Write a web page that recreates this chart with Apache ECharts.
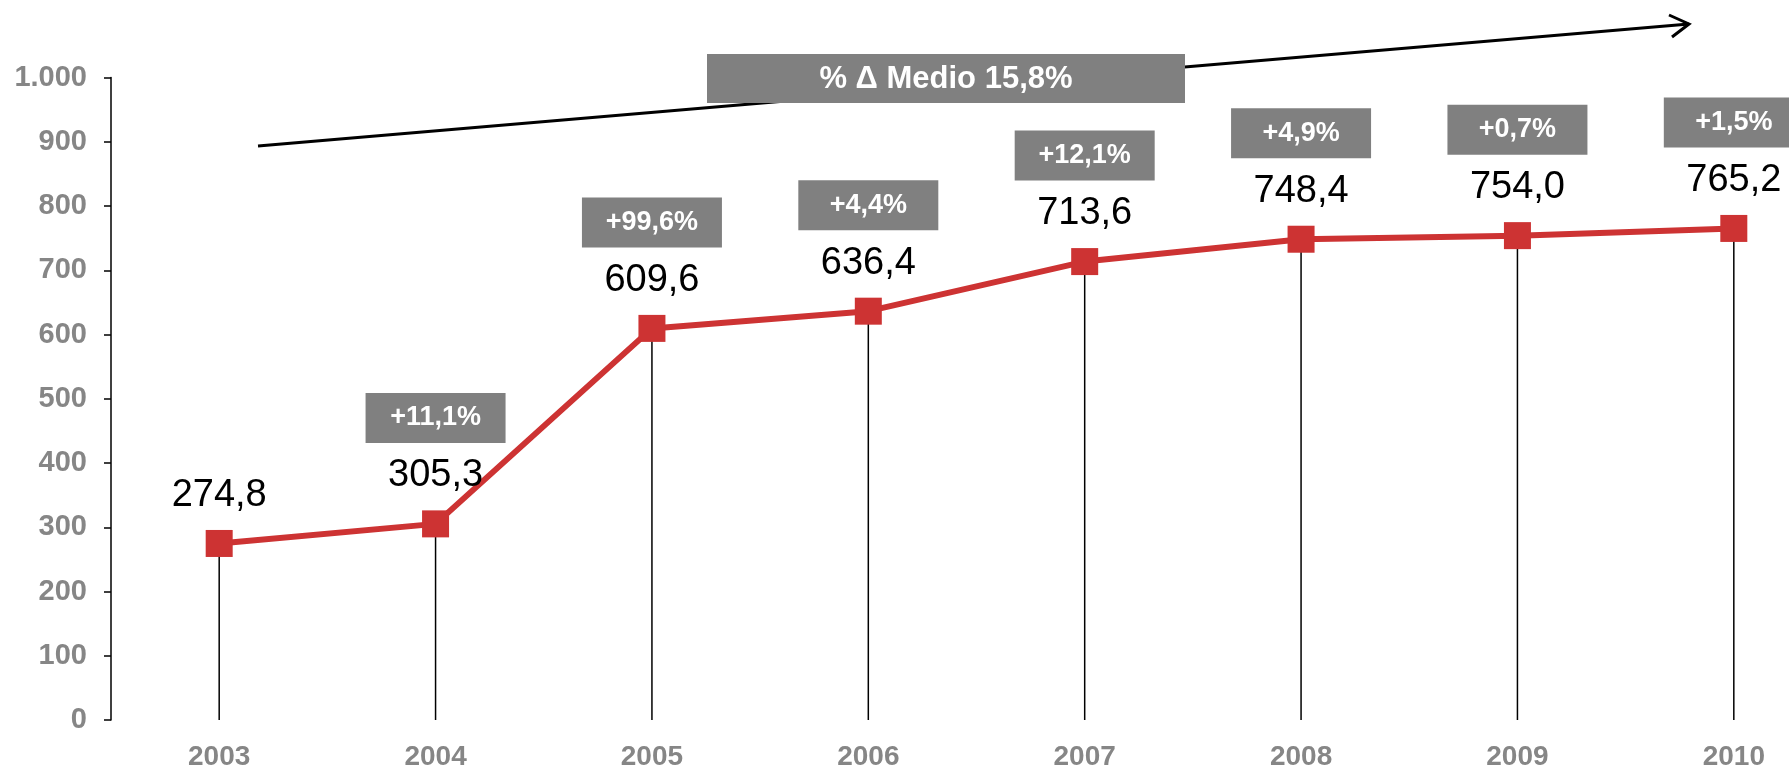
<!DOCTYPE html>
<html>
<head>
<meta charset="utf-8">
<script src="https://cdn.jsdelivr.net/npm/echarts@6/dist/echarts.min.js"></script>
<style>
html,body{margin:0;padding:0;background:#fff;}
#chart{width:1789px;height:768px;}
</style>
</head>
<body>
<div id="chart"></div>
<script>
var categories = ['2003','2004','2005','2006','2007','2008','2009','2010'];
var values = [274.8, 305.3, 609.6, 636.4, 713.6, 748.4, 754.0, 765.2];
var growthLabels = [null, '+11,1%', '+99,6%', '+4,4%', '+12,1%', '+4,9%', '+0,7%', '+1,5%'];
var averageLabel = '% \u0394 Medio 15,8%';
var yTicks = {min: 0, max: 1000, interval: 100};

var FONT = '"Liberation Sans", Arial, sans-serif';
var RED = '#CD3333';
var GREY_TXT = '#868686';
var BOX = '#808080';

function fmtDec(v){ return v.toFixed(1).replace('.', ','); }
function fmtThousands(v){ return String(v).replace(/\B(?=(\d{3})+(?!\d))/g, '.'); }

var growthData = values.map(function(v, i){ return growthLabels[i] == null ? '-' : v; });

var chart = echarts.init(document.getElementById('chart'));
chart.setOption({
  animation: false,
  grid: {left: 111, right: -53, top: 77.6, bottom: 48, outerBoundsMode: 'none', containLabel: false},
  xAxis: {
    type: 'category',
    data: categories,
    axisLine: {show: false},
    axisTick: {show: false},
    axisLabel: {color: GREY_TXT, fontFamily: FONT, fontWeight: 'bold', fontSize: 28, margin: 23},
    splitLine: {show: false}
  },
  yAxis: {
    type: 'value',
    min: yTicks.min, max: yTicks.max, interval: yTicks.interval,
    axisLine: {show: true, lineStyle: {color: '#000', width: 1.5}},
    axisTick: {show: true, length: 7, lineStyle: {color: '#000', width: 1.5}},
    axisLabel: {color: GREY_TXT, fontFamily: FONT, fontWeight: 'bold', fontSize: 29, margin: 24,
      formatter: function(v){ return fmtThousands(v); }},
    splitLine: {show: false}
  },
  series: [
    {
      type: 'bar',
      data: values,
      barWidth: 1.5,
      itemStyle: {color: '#000'},
      z: 1,
      silent: true
    },
    {
      type: 'line',
      data: values,
      symbol: 'rect',
      symbolSize: 27,
      lineStyle: {color: RED, width: 6},
      itemStyle: {color: RED},
      z: 3,
      label: {
        show: true,
        position: 'inside',
        offset: [0, -48],
        color: '#000',
        fontFamily: FONT,
        fontSize: 38,
        formatter: function(p){ return fmtDec(p.value); }
      }
    },
    {
      type: 'line',
      data: growthData,
      symbol: 'circle',
      symbolSize: 1,
      showSymbol: true,
      lineStyle: {width: 0, opacity: 0},
      itemStyle: {color: 'rgba(0,0,0,0)', opacity: 1},
      z: 4,
      silent: true,
      label: {
        show: true,
        position: 'inside',
        offset: [0, -106],
        backgroundColor: BOX,
        width: 140,
        height: 50,
        lineHeight: 50,
        align: 'center',
        verticalAlign: 'middle',
        color: '#fff',
        opacity: 1,
        fontFamily: FONT,
        fontWeight: 'bold',
        fontSize: 27,
        formatter: function(p){ return growthLabels[p.dataIndex]; }
      }
    }
  ],
  graphic: [
    {type: 'line', shape: {x1: 258, y1: 146, x2: 1689, y2: 24}, style: {stroke: '#000', lineWidth: 3}, z: 10},
    {type: 'polyline', shape: {points: [[1669, 15], [1689, 24], [1672, 37]]}, style: {stroke: '#000', lineWidth: 3, fill: null}, z: 10},
    {type: 'rect', shape: {x: 707, y: 54, width: 478, height: 49}, style: {fill: BOX}, z: 11},
    {type: 'text', x: 946, y: 79, style: {text: averageLabel, fill: '#fff', font: 'bold 31px ' + FONT, textAlign: 'center', textVerticalAlign: 'middle'}, z: 12}
  ]
});
</script>
</body>
</html>
